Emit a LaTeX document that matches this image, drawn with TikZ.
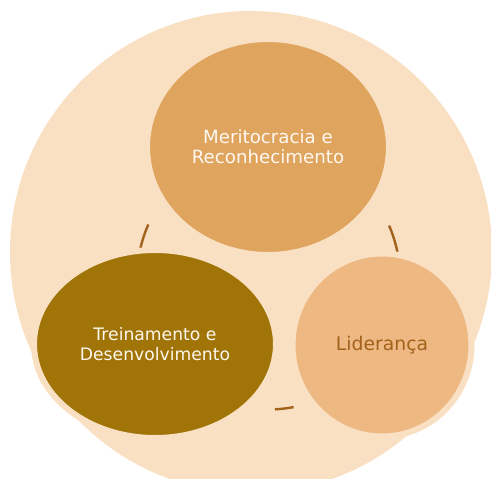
\documentclass[tikz,border=0pt]{standalone}
\usepackage{fontspec}
\setmainfont{DejaVu Sans}
\usepackage{tikz}
\usetikzlibrary{shapes.geometric}
\definecolor{ringFace}{HTML}{FAE0C3}
\definecolor{meritoFace}{HTML}{DFA45E}
\definecolor{treinoFace}{HTML}{A07407}
\definecolor{liderFace}{HTML}{EEB882}
\definecolor{arcBrown}{HTML}{A3621C}
\definecolor{bubbleText}{HTML}{FFF8F0}

\begin{document}
\begin{tikzpicture}[
        x=1pt, y=-1pt,
        bubble/.style={ellipse, draw=ringFace, line width=6pt, inner sep=0pt, align=center, text=bubbleText, font=\fontsize{18.2}{20}\selectfont},
        cyclearc/.style={draw=arcBrown, line width=2.4pt}
    ]
        \useasboundingbox (0,0) rectangle (491,479);
        \clip (0,0) rectangle (491,479);

        % --- large background disc ---
        \node[circle, fill=ringFace, minimum size=482pt, inner sep=0pt] (ring) at (251,252) {};

        % --- short arcs of the cycle between the bubbles ---
        \coordinate (hub) at (268.5,278);
        \draw[cyclearc] ([shift={(156:131.5pt)}]hub) arc[start angle=156, end angle=167, radius=131.5pt];
        \draw[cyclearc] ([shift={(11.5:131.5pt)}]hub) arc[start angle=11.5, end angle=23.5, radius=131.5pt];
        \draw[cyclearc] ([shift={(272.8:131.5pt)}]hub) arc[start angle=272.8, end angle=281, radius=131.5pt];

        % --- the three bubbles ---
        \node[bubble, fill=meritoFace, minimum width=242pt, minimum height=216pt] (merito) at (268,147) {Meritocracia e\\Reconhecimento};
        \node[bubble, fill=treinoFace, minimum width=242pt, minimum height=188pt, font=\fontsize{17.2}{20}\selectfont] (treino) at (155,344) {Treinamento e\\Desenvolvimento};
        \node[bubble, fill=liderFace, minimum width=179pt, minimum height=183pt, text=arcBrown, font=\fontsize{18.8}{20}\selectfont] (lider) at (382,345) {Liderança};
    \end{tikzpicture}
\end{document}
